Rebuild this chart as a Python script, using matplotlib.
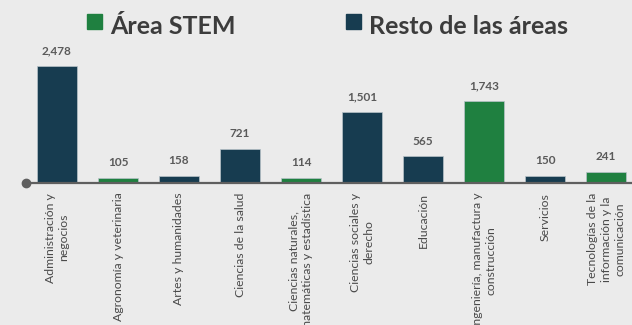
import matplotlib
matplotlib.use("Agg")
import matplotlib.pyplot as plt
from matplotlib.patches import Rectangle

# Egresados por campo de formación
categories = [
    "Administración y\nnegocios",
    "Agronomía y veterinaria",
    "Artes y humanidades",
    "Ciencias de la salud",
    "Ciencias naturales,\nmatemáticas y estadística",
    "Ciencias sociales y\nderecho",
    "Educación",
    "Ingeniería, manufactura y\nconstrucción",
    "Servicios",
    "Tecnologías de la\ninformación y la\ncomunicación",
]
values = [2478, 105, 158, 721, 114, 1501, 565, 1743, 150, 241]
is_stem = [False, True, False, False, True, False, False, True, False, True]

GREEN = "#1f8040"
NAVY = "#173c50"
BG = "#ebebeb"
TEXT = "#3c3c3c"
W, H = 632, 325

plt.rcParams["font.family"] = ["Lato", "DejaVu Sans"]

fig = plt.figure(figsize=(W / 100, H / 100), dpi=100, facecolor=BG)
# axes placed in pixel terms: baseline at y=183, first bar centre at x=57, pitch 61
ax = fig.add_axes([26 / W, (H - 183) / H, 606 / W, 143 / H])
ax.set_facecolor(BG)

x = list(range(len(values)))
colors = [GREEN if s else NAVY for s in is_stem]
ax.bar(x, values, width=0.67, color=colors, edgecolor="#b9c3c9", linewidth=0.5, zorder=2)

for xi, v in zip(x, values):
    ax.annotate(f"{v:,}", (xi, v), xytext=(0, 7), textcoords="offset points",
                ha="center", va="bottom", fontsize=8.5, fontweight="bold",
                color="#5a5a5a")

ax.set_xlim(-31 / 61, 575 / 61)
ax.set_ylim(0, 3029)

for side in ("top", "right", "left", "bottom"):
    ax.spines[side].set_visible(False)
ax.axhline(0, color="#5f5f5f", linewidth=1.6, zorder=3, clip_on=False)
ax.plot([-31 / 61], [0], marker="o", markersize=6, color="#5f5f5f",
        clip_on=False, zorder=4)

ax.set_yticks([])
ax.set_xticks(x)
ax.set_xticklabels(categories, rotation=90, ha="center", va="top",
                   multialignment="center", fontsize=8.8, color="#4a4a4a",
                   linespacing=1.3)
ax.tick_params(axis="x", length=0, pad=7)

# legend drawn by hand across the top
for (px, label, col) in [(87, "Área STEM", GREEN), (346, "Resto de las áreas", NAVY)]:
    fig.add_artist(Rectangle((px / W, 1 - 29 / H), 15 / W, 15 / H,
                             transform=fig.transFigure, color=col))
    fig.text((px + 23) / W, 1 - 34 / H, label, fontsize=18, fontweight="bold",
             color=TEXT, va="baseline", ha="left")

fig.savefig("out.png", dpi=100, facecolor=BG)
